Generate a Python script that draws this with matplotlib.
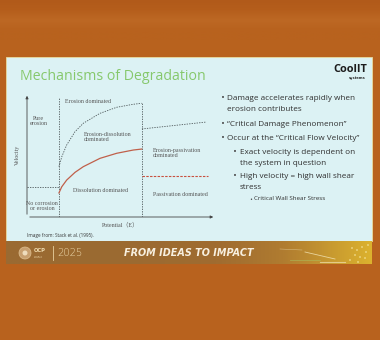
import matplotlib
matplotlib.use("Agg")
import numpy as np
import matplotlib.pyplot as plt
from matplotlib.colors import LinearSegmentedColormap
from matplotlib.patches import Rectangle, Circle

# ---- chart data (arbitrary units: potential 0-100, velocity 0-100) ----
upper_x = [16.9, 18.4, 21.0, 25.4, 29.8, 38.6, 47.5, 56.2, 60.7]
upper_y = [40.6, 48.6, 58.1, 68.8, 75.6, 83.6, 88.5, 90.9, 91.7]
red_x = [16.9, 18.4, 21.0, 25.4, 29.8, 38.6, 47.5, 56.2, 60.7]
red_y = [19.4, 24.4, 29.8, 36.0, 40.6, 47.3, 51.4, 54.0, 54.8]
pass_upper_x = [60.8, 95.0]
pass_upper_y = [71.0, 76.6]
pass_red_x = [60.8, 96.0]
pass_red_y = [32.7, 32.7]
boundary_x = [16.9, 60.8]
boundary_top = [96.8, 92.0]
threshold_y = 24.2

regions = ["Pure\nerosion", "Erosion dominated", "Erosion-dissolution\ndominated",
           "Erosion-passivation\ndominated", "Dissolution dominated",
           "Passivation dominated", "No corrosion\nor erosion"]

title = "Mechanisms of Degradation"
bullet_levels = [0, 0, 0, 1, 1, 2]
bullet_lines = [
    ["Damage accelerates rapidly when", "erosion contributes"],
    ["\u201cCritical Damage Phenomenon\u201d"],
    ["Occur at the \u201cCritical Flow Velocity\u201d"],
    ["Exact velocity is dependent on", "the system in question"],
    ["High velocity = high wall shear", "stress"],
    ["Critical Wall Shear Stress"],
]
bullet_y = [98, 124, 138.5, 152, 176, 199]

W, H = 380, 340
fig = plt.figure(figsize=(W / 100, H / 100), dpi=100)
fig.patch.set_facecolor("#b8621e")

# page layer in pixel coordinates
bg = fig.add_axes([0, 0, 1, 1])
bg.set_xlim(0, W)
bg.set_ylim(H, 0)
bg.axis("off")

# faint stripes of the projection screen at the top
top_cmap = LinearSegmentedColormap.from_list(
    "top", ["#b15a1a", "#b55e1c", "#bd6824", "#b8621e", "#b8621e"])
bg.imshow(np.linspace(0, 1, 64)[:, None], cmap=top_cmap, aspect="auto",
          extent=(0, W, 40, 0), zorder=0)
bg.add_patch(Rectangle((6, 57), 366, 184, facecolor="#dcf2f4", edgecolor="#e9dca0", lw=0.6))

# footer band with gradient towards gold on the right
foot_cmap = LinearSegmentedColormap.from_list(
    "foot", ["#9a6a32", "#a06c30", "#b07c30", "#c89a30", "#dcb22e"])
grad = np.linspace(0, 1, 256) ** 2.5
bg.imshow(grad[None, :], cmap=foot_cmap, aspect="auto",
          extent=(6, 372, 264, 241), zorder=1)
bg.set_xlim(0, W)
bg.set_ylim(H, 0)

bg.text(20, 76, title, fontsize=10.2, color="#86c86c", family="Open Sans",
        va="center", ha="left")
bg.text(367, 70, "CoolIT", fontsize=7.9, color="#1c1c1c", family="Open Sans",
        weight="bold", va="center", ha="right")
bg.text(366, 77.5, "systems", fontsize=2.6, color="#2a2a2a", weight="bold",
        va="center", ha="right")

bx = {0: (220.5, 227, 5.9, 11.2), 1: (233.5, 240, 5.9, 11.2), 2: (249, 254, 4.5, 10)}
for lvl, lines, y in zip(bullet_levels, bullet_lines, bullet_y):
    dot_x, tx, fs, step = bx[lvl]
    bg.text(dot_x, y, "\u2022", fontsize=fs * 0.85, color="#4a4a4a", va="center", ha="left")
    for i, line in enumerate(lines):
        bg.text(tx, y + i * step, line, fontsize=fs, color="#303030",
                family="Open Sans", va="center", ha="left")

bg.text(27, 236, "Image from: Stack et al. (1995).", fontsize=3.3, color="#333333",
        family="Open Sans", va="center")

# footer
bg.add_patch(Circle((25, 253), 6, facecolor="#c8a070", edgecolor="#e0c090", lw=0.5, zorder=2))
bg.add_patch(Circle((25, 253), 2.5, facecolor="#eedcbc", lw=0, zorder=3))
bg.text(34, 250.5, "OCP", fontsize=3.8, color="#f0dcb0", weight="bold", va="center")
bg.text(34, 256.5, "GLOBAL\nSUMMIT", fontsize=1.6, color="#e8d0a0", va="center", linespacing=0.9)
bg.plot([53, 53], [246, 260], color="#e8d0a0", lw=0.6)
bg.text(57, 253, "2025", fontsize=7.2, color="#f0dcb0", family="DejaVu Sans",
        weight="light", va="center")
bg.text(124, 253, "FROM IDEAS TO IMPACT", fontsize=6.9, color="#f8f0e0",
        weight="bold", style="italic", va="center")
bg.plot([305, 335], [252, 259], color="#f4e6b8", lw=0.6, alpha=0.8)
bg.plot([280, 302], [249, 250], color="#f0e0b0", lw=0.4, alpha=0.6)
bg.plot([290, 320], [260, 260], color="#a8c060", lw=0.6, alpha=0.6)
bg.plot([320, 345], [262, 262], color="#f0e0b0", lw=0.8, alpha=0.7)
for cx, cy in [(352, 248), (357, 250), (362, 247), (366, 252), (355, 255), (360, 257),
               (365, 258), (350, 260), (368, 245), (358, 262)]:
    bg.add_patch(Circle((cx, cy), 0.8, facecolor="#f6e6a0", lw=0, zorder=3))

# schematic chart
ax = fig.add_axes([27 / W, 1 - 217 / H, 189 / W, 124 / H])
ax.set_xlim(0, 100)
ax.set_ylim(0, 100)
ax.patch.set_alpha(0)
for s in ax.spines.values():
    s.set_visible(False)
ax.set_xticks([])
ax.set_yticks([])
ax.annotate("", xy=(1, 0), xytext=(0, 0), xycoords="axes fraction",
            arrowprops=dict(arrowstyle="-|>", color="#444444", lw=0.6, mutation_scale=4))
ax.annotate("", xy=(0, 1), xytext=(0, 0), xycoords="axes fraction",
            arrowprops=dict(arrowstyle="-|>", color="#444444", lw=0.6, mutation_scale=4))

dot = dict(color="#505a5c", lw=0.6, linestyle=(0, (1.6, 1.4)))
for bxv, top in zip(boundary_x, boundary_top):
    ax.plot([bxv, bxv], [0, top], **dot)
ax.plot([0, boundary_x[0]], [threshold_y, threshold_y], **dot)
ax.plot(upper_x, upper_y, **dot)
ax.plot(pass_upper_x, pass_upper_y, **dot)
ax.plot(red_x, red_y, color="#c0604a", lw=0.9)
ax.plot(pass_red_x, pass_red_y, color="#c8503e", lw=0.8, linestyle=(0, (2.2, 1.2)))

lab = dict(fontsize=4.3, color="#555555", family="Liberation Serif", linespacing=1.0)
ax.text(6.3, 77.4, regions[0], ha="center", va="center", **lab)
ax.text(32.3, 93.2, regions[1], ha="center", va="center", **lab)
ax.text(30.2, 64.5, regions[2], ha="left", va="center", **lab)
ax.text(66.7, 51.6, regions[3], ha="left", va="center", **lab)
ax.text(24.3, 21.0, regions[4], ha="left", va="center", **lab)
ax.text(66.7, 18.5, regions[5], ha="left", va="center", **lab)
ax.text(7.9, 8.9, regions[6], ha="center", va="center", **lab)
ax.text(-4.8, 50, "Velocity", rotation=90, ha="center", va="center", **lab)
ax.text(49.2, -6.5, "Potential\uff08E\uff09", ha="center", va="center",
        fontsize=4.3, color="#555555", family=["Liberation Serif", "Noto Sans CJK SC"])

fig.savefig("out.png", dpi=100, facecolor=fig.get_facecolor())
